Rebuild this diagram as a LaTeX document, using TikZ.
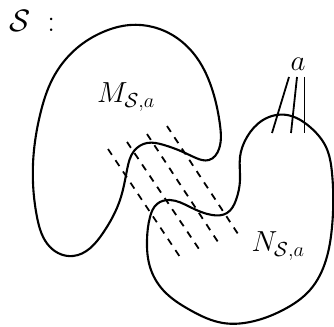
\RequirePackage{fix-cm}
\documentclass[tikz,border=0pt]{standalone}
\usepackage{amsmath}
\usepackage{tikz}
\usetikzlibrary{hobby,positioning}

\begin{document}
\begin{tikzpicture}[
    x=1pt, y=-1pt,
    blob/.style={line width=2.1pt, use Hobby shortcut, closed=true},
    cut/.style={line width=1.8pt, dash pattern=on 7pt off 6.5pt},
    strand/.style={line width=1.8pt},
    lab/.style={inner sep=0pt, font=\fontsize{29}{33}\selectfont}
]
    \useasboundingbox (0,0) rectangle (334,326);

    \node[lab, anchor=west, font=\fontsize{31}{35}\selectfont] (lbl) at (9,21)
        {$\mathcal{S}$\hspace{0.55em}:};
    \node[lab] (m) at (126,97) {$M_{\mathcal{S},a}$};
    \node[lab] (n) at (278,246) {$N_{\mathcal{S},a}$};
    \node[lab] (a) at (298,64) {$a$};

    % upper piece
    \draw [blob] (130,25) .. (153,27) .. (177,38) .. (197,58) .. (213,92)
        .. (220,125) .. (219,149) .. (209,160) .. (196,158) .. (183,152)
        .. (164,145) .. (147,143) .. (134,151) .. (127,170) .. (120,200)
        .. (103,233) .. (73,256) .. (50,247) .. (37,217) .. (33,183)
        .. (34,150) .. (40,115) .. (53,78) .. (77,48) .. (103,32);

    % lower piece
    \draw [blob] (287,115) .. (310,127) .. (326,147) .. (332,173)
        .. (332,227) .. (326,260) .. (310,290) .. (283,310) .. (250,322)
        .. (223,323) .. (190,310) .. (163,290) .. (150,267) .. (147,240)
        .. (150,217) .. (157,204) .. (170,200) .. (190,207) .. (212,215)
        .. (227,213) .. (236,200) .. (240,180) .. (240,157) .. (247,137)
        .. (263,120);

    % cut lines
    \coordinate (u1) at (108,149);
    \coordinate (d1) at (182,260);
    \coordinate (u2) at (127,142);
    \coordinate (d2) at (201,252);
    \coordinate (u3) at (147,134);
    \coordinate (d3) at (220,245);
    \coordinate (u4) at (167,126);
    \coordinate (d4) at (240,237);
    \foreach \i in {1,...,4}
        \draw [cut] (u\i) -- (d\i);

    % strands of a
    \coordinate (a1) at (289,77);
    \coordinate (b1) at (272,133);
    \coordinate (a2) at (297,77);
    \coordinate (b2) at (291,133);
    \coordinate (a3) at (304.5,77);
    \coordinate (b3) at (304.5,133);
    \foreach \i in {1,2,3}
        \draw [strand] (a\i) -- (b\i);
\end{tikzpicture}
\end{document}
